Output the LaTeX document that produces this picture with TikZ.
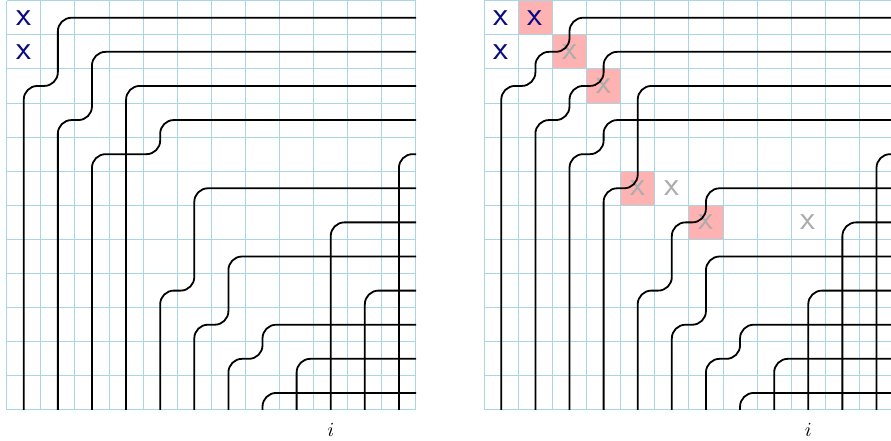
\documentclass[tikz,border=0pt]{standalone}
\usepackage{tikz}
\usetikzlibrary{positioning}
\usepackage{amsmath}
\usepackage{xcolor}
\definecolor{gridblue}{RGB}{168,214,228}
\definecolor{markblue}{RGB}{10,10,130}
\definecolor{markgray}{RGB}{172,172,172}
\definecolor{hitpink}{RGB}{255,178,178}

\begin{document}
\begin{tikzpicture}[
      x=0.6cm, y=0.6cm,
      gridline/.style={gridblue, line width=0.5pt, step=0.6cm},
      pipe/.style={line width=0.9pt, rounded corners=0.24cm},
      hit/.style={fill=hitpink},
      xblue/.style={font=\LARGE\sffamily, text=markblue, inner sep=0pt},
      xgray/.style={font=\LARGE\sffamily, text=markgray, inner sep=0pt}
    ]
    \useasboundingbox (-0.196,-0.9) rectangle (25.925,12.02);
    \clip (-0.196,-0.9) rectangle (25.925,12.02);

    % left board
    \draw[gridline] (0,0) grid (12,12);
    \node[xblue] (L11) at (0.5,11.5) {x};
    \node[xblue] (L21) at (0.5,10.5) {x};
    \draw[pipe] (0.5,0) -- (0.5,9.5) -- (1.5,9.5) -- (1.5,11.5) -- (12,11.5);
    \draw[pipe] (1.5,0) -- (1.5,8.5) -- (2.5,8.5) -- (2.5,10.5) -- (12,10.5);
    \draw[pipe] (2.5,0) -- (2.5,7.5) -- (4.5,7.5) -- (4.5,8.5) -- (12,8.5);
    \draw[pipe] (3.5,0) -- (3.5,9.5) -- (12,9.5);
    \draw[pipe] (4.5,0) -- (4.5,3.5) -- (5.5,3.5) -- (5.5,6.5) -- (12,6.5);
    \draw[pipe] (5.5,0) -- (5.5,2.5) -- (6.5,2.5) -- (6.5,4.5) -- (12,4.5);
    \draw[pipe] (6.5,0) -- (6.5,1.5) -- (7.5,1.5) -- (7.5,2.5) -- (12,2.5);
    \draw[pipe] (7.5,0) -- (7.5,0.5) -- (12,0.5);
    \draw[pipe] (8.5,0) -- (8.5,1.5) -- (12,1.5);
    \draw[pipe] (9.5,0) -- (9.5,5.5) -- (12,5.5);
    \draw[pipe] (10.5,0) -- (10.5,3.5) -- (12,3.5);
    \draw[pipe] (11.5,0) -- (11.5,7.5) -- (12,7.5);
    \node (Li) at (9.5,-0.57) {$i$};

    % right board
    \begin{scope}[shift={(14,0)}]
      \fill[hit] (1,11) rectangle (2,12);
      \fill[hit] (2,10) rectangle (3,11);
      \fill[hit] (3,9) rectangle (4,10);
      \fill[hit] (4,6) rectangle (5,7);
      \fill[hit] (6,5) rectangle (7,6);
      \draw[gridline] (0,0) grid (12,12);
      \node[xblue] (R11) at (0.5,11.5) {x};
      \node[xblue] (R21) at (0.5,10.5) {x};
      \node[xblue] (R12) at (1.5,11.5) {x};
      \node[xgray] (R23) at (2.5,10.5) {x};
      \node[xgray] (R34) at (3.5,9.5) {x};
      \node[xgray] (R65) at (4.5,6.5) {x};
      \node[xgray] (R66) at (5.5,6.5) {x};
      \node[xgray] (R77) at (6.5,5.5) {x};
      \node[xgray] (R710) at (9.5,5.5) {x};
      \draw[pipe] (0.5,0) -- (0.5,9.5) -- (1.5,9.5) -- (1.5,10.5) -- (2.5,10.5) -- (2.5,11.5) -- (12,11.5);
      \draw[pipe] (1.5,0) -- (1.5,8.5) -- (2.5,8.5) -- (2.5,9.5) -- (3.5,9.5) -- (3.5,10.5) -- (12,10.5);
      \draw[pipe] (2.5,0) -- (2.5,7.5) -- (3.5,7.5) -- (3.5,8.5) -- (12,8.5);
      \draw[pipe] (3.5,0) -- (3.5,6.5) -- (4.5,6.5) -- (4.5,9.5) -- (12,9.5);
      \draw[pipe] (4.5,0) -- (4.5,3.5) -- (5.5,3.5) -- (5.5,5.5) -- (6.5,5.5) -- (6.5,6.5) -- (12,6.5);
      \draw[pipe] (5.5,0) -- (5.5,2.5) -- (6.5,2.5) -- (6.5,4.5) -- (12,4.5);
      \draw[pipe] (6.5,0) -- (6.5,1.5) -- (7.5,1.5) -- (7.5,2.5) -- (12,2.5);
      \draw[pipe] (7.5,0) -- (7.5,0.5) -- (12,0.5);
      \draw[pipe] (8.5,0) -- (8.5,1.5) -- (12,1.5);
      \draw[pipe] (9.5,0) -- (9.5,3.5) -- (12,3.5);
      \draw[pipe] (10.5,0) -- (10.5,5.5) -- (12,5.5);
      \draw[pipe] (11.5,0) -- (11.5,7.5) -- (12,7.5);
      \node (Ri) at (9.5,-0.57) {$i$};
    \end{scope}
  \end{tikzpicture}
\end{document}
